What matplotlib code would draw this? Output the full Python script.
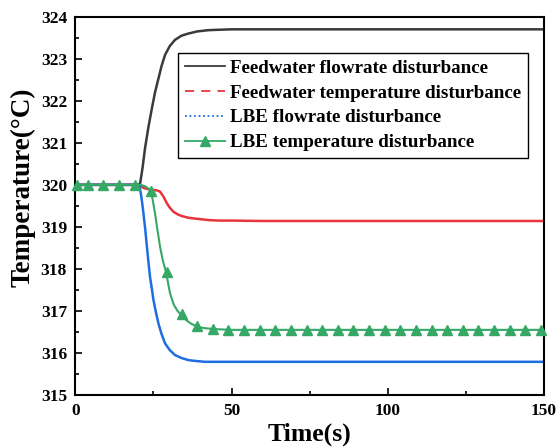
import numpy as np
import matplotlib
matplotlib.use('Agg')
import matplotlib.pyplot as plt
from matplotlib.lines import Line2D
from matplotlib.ticker import MultipleLocator

# ── Data ──
t_fw_flow = [0, 20, 20.7, 21.5, 22.3, 23.4, 24.5, 25.5, 26.6, 27.6, 28.7, 30.2, 31.9,
             34, 36.2, 39, 42.6, 46, 50, 60, 150]
T_fw_flow = [320, 320, 320.02, 320.4, 320.87, 321.38, 321.82, 322.2, 322.53, 322.83,
             323.09, 323.3, 323.45, 323.55, 323.6, 323.65, 323.68, 323.69, 323.7, 323.7, 323.7]

t_fw_temp = [0, 20, 21, 22, 24.5, 26, 27.1, 28.2, 29.3, 30.3, 31.4, 32.7, 34, 36, 38,
             40.4, 43, 46, 50, 60, 150]
T_fw_temp = [320, 320, 319.97, 319.92, 319.88, 319.87, 319.84, 319.72, 319.56, 319.45,
             319.36, 319.3, 319.26, 319.22, 319.2, 319.18, 319.16, 319.15, 319.15, 319.14, 319.14]

t_lbe_flow = [0, 20, 20.6, 21.2, 21.8, 22.4, 22.9, 23.4, 23.9, 24.5, 25, 25.8, 26.6,
              27.6, 28.7, 30.2, 31.9, 34, 36.2, 38.5, 41.5, 45, 50, 150]
T_lbe_flow = [320, 320, 319.96, 319.68, 319.32, 318.92, 318.53, 318.16, 317.81, 317.52,
              317.26, 316.96, 316.7, 316.45, 316.23, 316.07, 315.95, 315.88, 315.83,
              315.81, 315.79, 315.79, 315.79, 315.79]

t_lbe_temp = [0, 21, 22.5, 23.9, 24.7, 25.5, 26.3, 27.1, 28, 29, 30.3, 31.5, 32.7, 34,
              35.5, 37, 39.2, 41.5, 44.2, 47, 50, 60, 150]
T_lbe_temp = [320, 320, 319.96, 319.88, 319.67, 319.32, 318.92, 318.53, 318.2, 317.93,
              317.42, 317.15, 317.0, 316.9, 316.78, 316.7, 316.62, 316.59, 316.57,
              316.56, 316.55, 316.55, 316.55]

# marker points on the LBE temperature curve
t_lbe_temp_mk = [0.6, 4, 9, 14, 19, 24.2, 29.3, 34, 39, 44] + list(range(49, 150, 5))
T_lbe_temp_mk = [320, 320, 320, 320, 320, 319.86, 317.93, 316.92, 316.65, 316.58] + [316.55] * 21

labels = ['Feedwater flowrate disturbance', 'Feedwater temperature disturbance',
          'LBE flowrate disturbance', 'LBE temperature disturbance']
colors = ['#3a3a3a', '#e8343c', '#1f6ee0', '#35a866']

plt.rcParams['font.family'] = ['Liberation Serif', 'DejaVu Serif']
plt.rcParams['font.weight'] = 'bold'
plt.rcParams['mathtext.default'] = 'bf'

fig = plt.figure(figsize=(5.56, 4.47), dpi=100)
ax = fig.add_axes([0.1355, 0.1163, 0.843, 0.8463])

ax.plot(t_fw_flow, T_fw_flow, color=colors[0], lw=1.8)
ax.plot(t_fw_temp, T_fw_temp, color=colors[1], lw=1.8)
ax.plot(t_lbe_flow, T_lbe_flow, color=colors[2], lw=1.8)
ax.plot(t_lbe_temp, T_lbe_temp, color=colors[3], lw=1.5)
ax.plot(t_lbe_temp_mk, T_lbe_temp_mk, ls='none', marker='^', ms=7.5,
        color=colors[3], clip_on=False, zorder=4)

ax.set_xlim(0, 150)
ax.set_ylim(315, 324)
ax.xaxis.set_major_locator(MultipleLocator(50))
ax.xaxis.set_minor_locator(MultipleLocator(25))
ax.yaxis.set_major_locator(MultipleLocator(1))
ax.yaxis.set_minor_locator(MultipleLocator(0.5))
ax.tick_params(which='both', direction='in', top=False, right=False, width=1.2,
               labelsize=12.5, pad=6)
ax.tick_params(which='major', length=5)
ax.tick_params(which='minor', length=3)
for s in ax.spines.values():
    s.set_linewidth(1.5)
for lab in ax.get_xticklabels() + ax.get_yticklabels():
    lab.set_fontweight('bold')

ax.set_xlabel('Time(s)', fontsize=18.5, fontweight='bold', labelpad=2)
ax.set_ylabel('Temperature(°C)', fontsize=19.5, fontweight='bold')
ax.yaxis.set_label_coords(-0.084, 0.55)

handles = [
    Line2D([], [], color=colors[0], lw=1.3),
    Line2D([], [], color=colors[1], lw=1.3, ls=(0, (5, 4))),
    Line2D([], [], color=colors[2], lw=1.3, ls=(0, (1, 1.5))),
    Line2D([], [], color=colors[3], lw=1.3, marker='^', ms=7),
]
leg = ax.legend(handles, labels, loc='upper left', bbox_to_anchor=(0.219, 0.905),
                fancybox=False, edgecolor='black', framealpha=1,
                prop={'size': 13.7, 'weight': 'bold'}, handlelength=2.1,
                handletextpad=0.3, labelspacing=0.4, borderpad=0.35, borderaxespad=0)
leg.get_frame().set_linewidth(1.0)

plt.savefig('out.png', dpi=100)
